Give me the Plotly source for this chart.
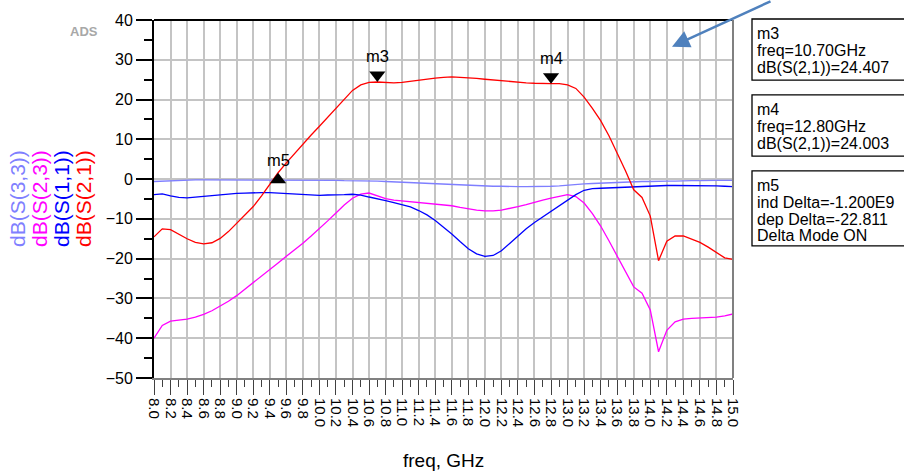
import plotly.graph_objects as go

# ---------------- data ----------------
freq = [round(8.0 + 0.1 * i, 1) for i in range(71)]

s21_db = [-14.5, -12.5, -12.7, -13.9, -15.0, -15.9, -16.3, -16.0, -14.9, -13.2,
          -11.1, -9.0, -6.9, -4.2, -1.3, 1.6, 4.1, 6.5, 8.8, 11.1,
          13.3, 15.6, 17.9, 20.2, 22.3, 23.7, 24.3, 24.41, 24.3, 24.2,
          24.3, 24.6, 24.9, 25.2, 25.4, 25.6, 25.7, 25.6, 25.5, 25.3,
          25.1, 24.9, 24.7, 24.5, 24.3, 24.2, 24.1, 24.0, 24.0, 24.0,
          23.7, 22.8, 20.6, 17.8, 14.7, 10.9, 6.6, 2.1, -2.7, -4.6,
          -9.3, -20.5, -15.6, -14.3, -14.3, -15.0, -15.9, -17.1, -18.4, -19.8,
          -20.2]

s11_db = [-3.9, -3.7, -4.2, -4.6, -4.7, -4.5, -4.3, -4.1, -3.9, -3.7,
          -3.6, -3.5, -3.4, -3.4, -3.4, -3.5, -3.6, -3.8, -3.9, -4.0,
          -4.1, -4.0, -4.0, -3.9, -3.8, -4.0, -4.5, -4.9, -5.4, -5.9,
          -6.4, -7.0, -7.9, -9.0, -10.4, -12.0, -13.8, -15.7, -17.5, -18.8,
          -19.4, -19.2, -18.0, -16.2, -14.3, -12.5, -10.9, -9.5, -8.2, -6.9,
          -5.5, -3.9, -2.8, -2.4, -2.3, -2.2, -2.1, -2.0, -1.9, -1.8,
          -1.7, -1.7, -1.6, -1.6, -1.6, -1.6, -1.6, -1.7, -1.7, -1.8,
          -1.9]

s33_db = [-0.6, -0.5, -0.4, -0.3, -0.2, -0.2, -0.2, -0.2, -0.2, -0.2,
          -0.2, -0.2, -0.2, -0.2, -0.2, -0.2, -0.2, -0.2, -0.2, -0.3,
          -0.3, -0.3, -0.3, -0.4, -0.4, -0.4, -0.5, -0.5, -0.6, -0.7,
          -0.8, -0.8, -0.9, -1.0, -1.1, -1.2, -1.3, -1.4, -1.5, -1.6,
          -1.7, -1.8, -1.8, -1.9, -1.9, -1.9, -1.9, -1.9, -1.8, -1.7,
          -1.5, -1.4, -1.2, -1.1, -1.0, -0.9, -0.8, -0.8, -0.7, -0.6,
          -0.6, -0.5, -0.5, -0.5, -0.4, -0.4, -0.4, -0.3, -0.3, -0.3,
          -0.3]

s23_db = [-40.0, -36.8, -35.7, -35.4, -35.2, -34.7, -34.0, -33.1, -32.0, -30.7,
          -29.3, -27.7, -26.1, -24.4, -22.8, -21.1, -19.4, -17.8, -16.1, -14.3,
          -12.5, -10.5, -8.5, -6.5, -4.8, -3.8, -3.5, -4.2, -4.9, -5.3,
          -5.5, -5.7, -5.8, -6.0, -6.2, -6.4, -6.7, -7.1, -7.5, -7.8,
          -8.0, -8.0, -7.8, -7.4, -6.9, -6.4, -5.8, -5.3, -4.8, -4.3,
          -3.9, -4.4, -6.0, -8.7, -11.8, -15.5, -19.4, -23.3, -27.1, -28.7,
          -32.9, -43.4, -38.0, -35.9, -35.2, -35.0, -34.9, -34.8, -34.7, -34.4,
          -33.9]

trace_names = ["dB(S(3,3))", "dB(S(2,3))", "dB(S(1,1))", "dB(S(2,1))"]
trace_colors = ["#7F7FFF", "#FF00FF", "#0000FF", "#FF0000"]

marker_names = ["m3", "m4", "m5"]
marker_freq = [10.70, 12.80, 9.50]
marker_db = [24.407, 24.003, 1.596]
m5_ind_delta = "-1.200E9"
m5_dep_delta = -22.811

x_ticks = [round(8.0 + 0.2 * i, 1) for i in range(36)]
y_ticks = list(range(-50, 41, 10))

# ---------------- geometry helpers ----------------
W, H = 904, 475
L, R, T, B = 154, 171, 15, 97
PW, PH = W - L - R, H - T - B


def px(x):
    return (x - L) / PW


def py(y):
    return (H - B - y) / PH


fig = go.Figure()

series = [s33_db, s23_db, s11_db, s21_db]
for name, col, ys in zip(trace_names, trace_colors, series):
    fig.add_trace(go.Scatter(x=freq, y=ys, mode="lines", name=name,
                             line=dict(color=col, width=1.3), hoverinfo="skip"))

# markers (triangles with apex on the curve)
fig.add_trace(go.Scatter(x=marker_freq[:2], y=marker_db[:2], mode="markers",
                         marker=dict(symbol="triangle-up", angle=180, standoff=7,
                                     size=14, color="black"),
                         hoverinfo="skip"))
fig.add_trace(go.Scatter(x=marker_freq[2:], y=marker_db[2:], mode="markers",
                         marker=dict(symbol="triangle-up", angle=0, standoff=7,
                                     size=14, color="black"),
                         hoverinfo="skip"))

ann = []
shift = [26, 26, 13]
for n, f, d, s in zip(marker_names, marker_freq, marker_db, shift):
    ann.append(dict(x=f, y=d, xref="x", yref="y", text=n, showarrow=False,
                    xanchor="center", yanchor="middle",
                    yshift=s, font=dict(size=16.5, color="black")))

# left rotated labels
for i, (name, col) in enumerate(zip(trace_names, trace_colors)):
    ann.append(dict(x=px(17 + 22 * i), y=0.5, xref="paper", yref="paper",
                    xanchor="center", yanchor="middle",
                    text=name, textangle=-90, showarrow=False,
                    font=dict(size=21, color=col)))

# x title
ann.append(dict(x=0.5, y=py(462), xref="paper", yref="paper", text="freq, GHz",
                xanchor="center", yanchor="middle",
                showarrow=False, font=dict(size=19, color="black")))

# ADS logo
ann.append(dict(x=px(83.5), y=py(26.5), xref="paper", yref="paper", text="<b>ADS</b>",
                xanchor="center", yanchor="middle",
                showarrow=False, font=dict(size=13, color="#a8a8a8")))

# arrow
ann.append(dict(x=px(672), y=py(42), xref="paper", yref="paper", text="",
                showarrow=True, ax=100, ay=-46, arrowcolor="#4F81BD",
                arrowwidth=2.5, arrowhead=2, arrowsize=1.4))

# marker boxes
box_lines = [
    [marker_names[0], "freq=%.2fGHz" % marker_freq[0], "dB(S(2,1))=%.3f" % marker_db[0]],
    [marker_names[1], "freq=%.2fGHz" % marker_freq[1], "dB(S(2,1))=%.3f" % marker_db[1]],
    [marker_names[2], "ind Delta=" + m5_ind_delta, "dep Delta=%.3f" % m5_dep_delta,
     "Delta Mode ON"],
]
box_tops = [14, 91, 168]
box_bottoms = [76, 153, 244]
shapes = []
for lines, top, bot in zip(box_lines, box_tops, box_bottoms):
    shapes.append(dict(type="rect", xref="paper", yref="paper",
                       x0=px(752), x1=px(912), y0=py(bot), y1=py(top),
                       line=dict(color="black", width=1.3), fillcolor="rgba(0,0,0,0)"))
    for k, t in enumerate(lines):
        ann.append(dict(x=px(755), y=py(top + 15 + 17 * k), xref="paper", yref="paper",
                        text=t, showarrow=False, xanchor="left", yanchor="middle",
                        font=dict(size=16, color="black")))

# top and right borders of plot
shapes.append(dict(type="line", xref="paper", yref="paper", x0=0, x1=1, y0=1, y1=1,
                   line=dict(color="black", width=1.8)))
shapes.append(dict(type="line", xref="paper", yref="paper", x0=1, x1=1, y0=0, y1=1,
                   line=dict(color="#808080", width=2)))

fig.update_layout(
    width=W, height=H,
    margin=dict(l=L, r=R, t=T, b=B),
    paper_bgcolor="white", plot_bgcolor="white",
    showlegend=False,
    font=dict(family="Liberation Sans, Arial, sans-serif", color="black"),
    annotations=ann, shapes=shapes,
)

fig.update_xaxes(
    range=[8, 15], tickvals=x_ticks, ticktext=["%.1f" % v for v in x_ticks],
    tickangle=90, tickfont=dict(size=15),
    showgrid=True, gridcolor="#c4c4c4", gridwidth=1.6,
    showline=True, linecolor="#808080", linewidth=2,
    ticks="outside", ticklen=15, tickwidth=1.3, tickcolor="#404040",
    minor=dict(dtick=0.1, tick0=8.0, ticks="outside", ticklen=7, tickwidth=1.3,
               tickcolor="#404040", showgrid=False),
    zeroline=False,
)
fig.update_yaxes(
    range=[-50, 40], tickvals=y_ticks, tickfont=dict(size=16),
    showgrid=True, gridcolor="#c4c4c4", gridwidth=1.6,
    showline=True, linecolor="black", linewidth=1.8,
    ticks="outside", ticklen=16, tickwidth=1.5, tickcolor="black",
    minor=dict(dtick=5, tick0=0, ticks="outside", ticklen=8, tickwidth=1.5,
               tickcolor="black", showgrid=False),
    zeroline=False,
)

fig.write_html("out.html", config={"displayModeBar": False},
               post_script="document.body.style.margin='0';document.body.style.padding='0';")
